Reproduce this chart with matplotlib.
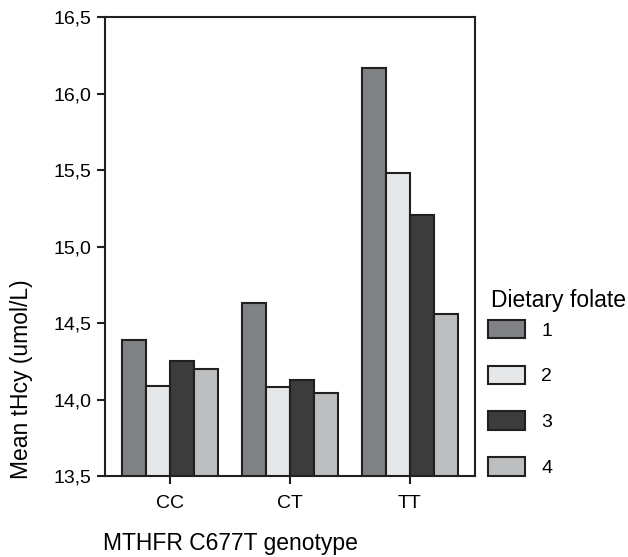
import numpy as np
import matplotlib
matplotlib.use('Agg')
import matplotlib.pyplot as plt
from matplotlib.patches import Patch

plt.rcParams['font.family'] = ['Liberation Sans', 'DejaVu Sans']

# data
genotypes = ['CC', 'CT', 'TT']
folate_groups = ['1', '2', '3', '4']
mean_thcy = {
    '1': [14.39, 14.63, 16.17],
    '2': [14.09, 14.08, 15.48],
    '3': [14.25, 14.13, 15.21],
    '4': [14.20, 14.04, 14.56],
}
yticks = [13.5, 14.0, 14.5, 15.0, 15.5, 16.0, 16.5]
ytick_labels = ['13,5', '14,0', '14,5', '15,0', '15,5', '16,0', '16,5']

colors = ['#808285', '#e6e7e8', '#3c3c3c', '#bcbec0']
edge = '#231f20'

fig = plt.figure(figsize=(6.28, 5.57), dpi=100)
ax = fig.add_axes([0.167, 0.1454, 0.589, 0.8236])

x = np.arange(len(genotypes))
w = 0.2
for i, g in enumerate(folate_groups):
    ax.bar(x + (i - 1.5) * w, mean_thcy[g], width=w, bottom=0,
           color=colors[i], edgecolor=edge, linewidth=1.5, zorder=2)

ax.set_ylim(13.5, 16.5)
ax.set_xlim(-0.54, 2.54)
ax.set_yticks(yticks)
ax.set_yticklabels(ytick_labels)
ax.set_xticks(x)
ax.set_xticklabels(genotypes)
ax.tick_params(axis='both', labelsize=14, color=edge, width=1.5, length=6, direction='out')
ax.tick_params(axis='x', pad=8)
for s in ax.spines.values():
    s.set_linewidth(1.5)
    s.set_color(edge)

fig.text(0.035, 0.32, 'Mean tHcy (umol/L)', rotation=90, fontsize=16.5,
         ha='center', va='center')
fig.text(0.164, 0.0126, 'MTHFR C677T genotype', fontsize=16.5, ha='left', va='baseline')

# legend: title as separate text so the gap can match
fig.text(0.782, 0.461, 'Dietary folate', fontsize=16.5, ha='left', va='center')
handles = [Patch(facecolor=colors[i], edgecolor=edge, linewidth=1.5) for i in range(4)]
fig.legend(handles, folate_groups, loc='upper left',
           bbox_to_anchor=(0.777, 0.426), frameon=False, fontsize=14,
           handlelength=1.9, handleheight=1.1,
           labelspacing=1.33, handletextpad=0.85, borderpad=0, borderaxespad=0)

fig.savefig('out.png', dpi=100)
